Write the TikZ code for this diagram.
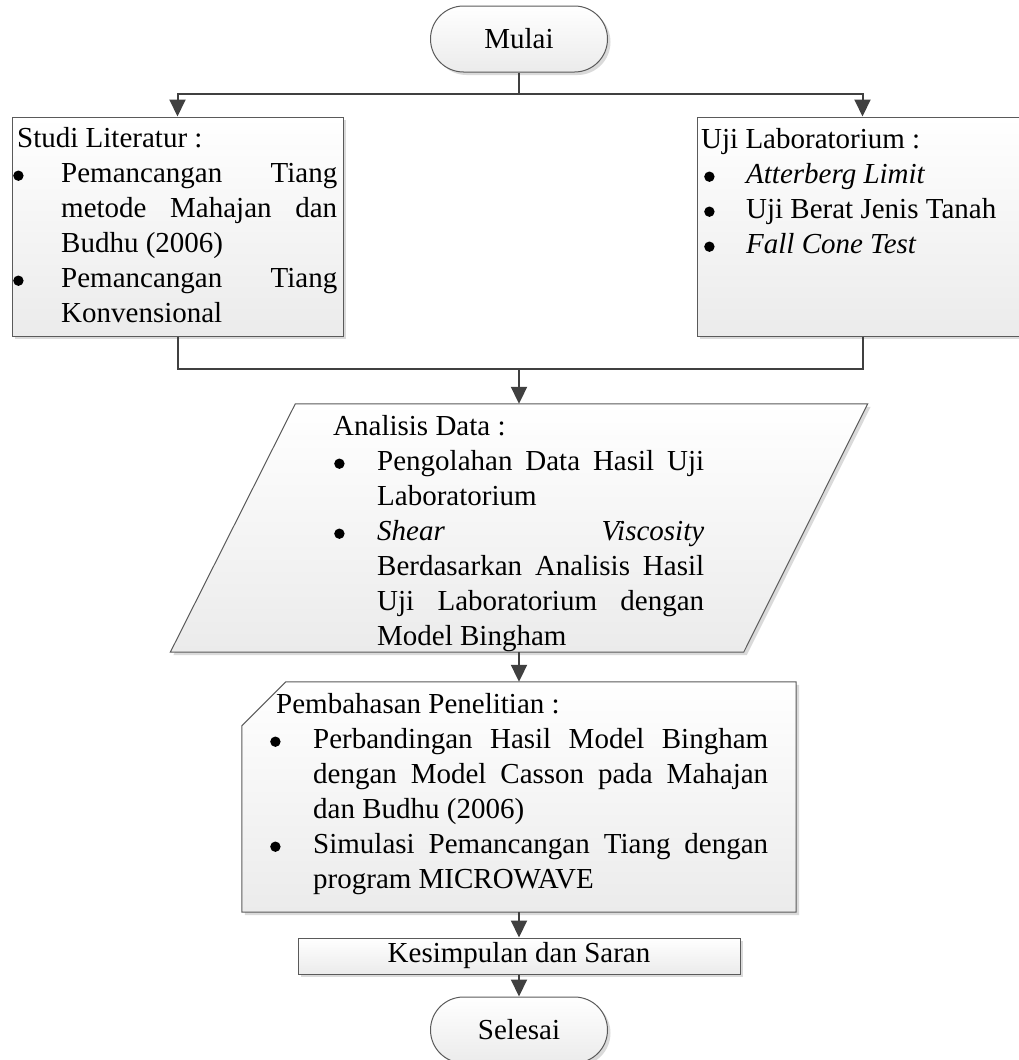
\documentclass[tikz,border=0pt]{standalone}
\usepackage{fontspec}
\setmainfont{Liberation Serif}
\usetikzlibrary{arrows.meta,calc,shadows}
\definecolor{connc}{HTML}{404040}
\definecolor{bordc}{HTML}{5A5A5A}
\definecolor{shadc}{HTML}{DADADA}
\definecolor{fillbot}{HTML}{EBEBEB}
\setlength{\parindent}{0pt}
\hyphenpenalty=10000
\exhyphenpenalty=10000
\tolerance=10000
\hbadness=10000
\newcommand{\bul}{\tikz[baseline=0pt]\fill[black] (0pt,6.5pt) circle (5.2pt);}
\newcommand{\bitem}[3]{\par\noindent\hangindent=#2\hangafter=1\makebox[#2][l]{\hspace*{#1}\bul}#3\par}
\begin{document}
\begin{tikzpicture}[x=1pt,y=-1pt,
  conn/.style={draw=connc, line width=2pt},
  arr/.style={conn, -{Triangle[length=17pt,width=16pt]}},
  shapebox/.style={draw=bordc, line width=1pt, top color=white, bottom color=fillbot},
  boxnode/.style={shapebox, rectangle, inner sep=0pt, general shadow={fill=shadc, shadow xshift=3pt, shadow yshift=-3pt}},
  term/.style={boxnode, rounded corners=33pt, minimum width=177pt, minimum height=66pt, font=\fontsize{29}{35}\selectfont},
  ghost/.style={rectangle, inner sep=0pt},
  txt/.style={anchor=north west, inner sep=0pt, align=justify, font=\fontsize{29}{35}\selectfont},
]
\useasboundingbox (0,0) rectangle (1019,1060);
\clip (0,0) rectangle (1019,1060);

% shapes
\node[term] (mulai) at (519,39) {Mulai};
\node[boxnode, minimum width=331pt, minimum height=219pt] (studi) at (177.5,226.5) {};
\node[boxnode, minimum width=331pt, minimum height=219pt] (uji) at (862.5,226.5) {};

\node[ghost, minimum width=697pt, minimum height=248pt] (ana) at (519,528) {};
\fill[shadc] ($(ana.north west)+(128,3)$) -- ($(ana.north east)+(3,3)$) -- ($(ana.south east)+(-121,3)$) -- ($(ana.south west)+(3,3)$) -- cycle;
\path[shapebox] ($(ana.north west)+(125,0)$) -- (ana.north east) -- ($(ana.south east)+(-124,0)$) -- (ana.south west) -- cycle;

\node[ghost, minimum width=554pt, minimum height=230pt] (pemb) at (519,797) {};
\fill[shadc] ($(pemb.north west)+(47,3)$) -- ($(pemb.north east)+(3,3)$) -- ($(pemb.south east)+(3,3)$) -- ($(pemb.south west)+(3,3)$) -- ($(pemb.north west)+(3,47)$) -- cycle;
\path[shapebox] ($(pemb.north west)+(44,0)$) -- (pemb.north east) -- (pemb.south east) -- (pemb.south west) -- ($(pemb.north west)+(0,44)$) -- cycle;

\node[boxnode, minimum width=442pt, minimum height=36pt, font=\fontsize{29}{35}\selectfont] (kes) at (519,956) {Kesimpulan dan Saran};
\node[term] (selesai) at (519,1030) {Selesai};

% texts
\node[txt, text width=320pt] (studitext) at (17,122.5) {\strut Studi Literatur :\par
\bitem{-4pt}{44pt}{Pemancangan Tiang\linebreak metode Mahajan dan\linebreak Budhu (2006)}
\bitem{-4pt}{44pt}{Pemancangan Tiang\linebreak Konvensional}};

\node[txt, text width=311pt] (ujitext) at (701,123.5) {\strut Uji Laboratorium :\par
\bitem{3pt}{45pt}{\textit{Atterberg Limit}}
\bitem{3pt}{45pt}{Uji Berat Jenis Tanah}
\bitem{3pt}{45pt}{\textit{Fall Cone Test}}};

\node[txt, text width=371pt] (anatext) at (333,410.5) {\strut Analisis Data :\par
\bitem{1pt}{44pt}{Pengolahan Data Hasil Uji\linebreak Laboratorium}
\bitem{1pt}{44pt}{\textit{Shear Viscosity}\linebreak Berdasarkan Analisis Hasil\linebreak Uji Laboratorium dengan\linebreak Model Bingham}};

\node[txt, text width=492pt] (pembtext) at (276,688.5) {\strut Pembahasan Penelitian :\par
\bitem{-6pt}{37pt}{Perbandingan Hasil Model Bingham\linebreak dengan Model Casson pada Mahajan\linebreak dan Budhu (2006)}
\bitem{-6pt}{37pt}{Simulasi Pemancangan Tiang dengan\linebreak program MICROWAVE}};

% connectors
\coordinate (split) at (519,94);
\coordinate (join) at (519,369);
\draw[conn] (mulai.south) -- (split);
\draw[arr] (split) -| (studi.north);
\draw[arr] (split) -| (uji.north);
\draw[conn] (studi.south) |- (join);
\draw[conn] (uji.south) |- (join);
\draw[arr] (join) -- (ana.north);
\draw[arr] (ana.south) -- (pemb.north);
\draw[arr] (pemb.south) -- (kes.north);
\draw[arr] (kes.south) -- (selesai.north);
\end{tikzpicture}
\end{document}
